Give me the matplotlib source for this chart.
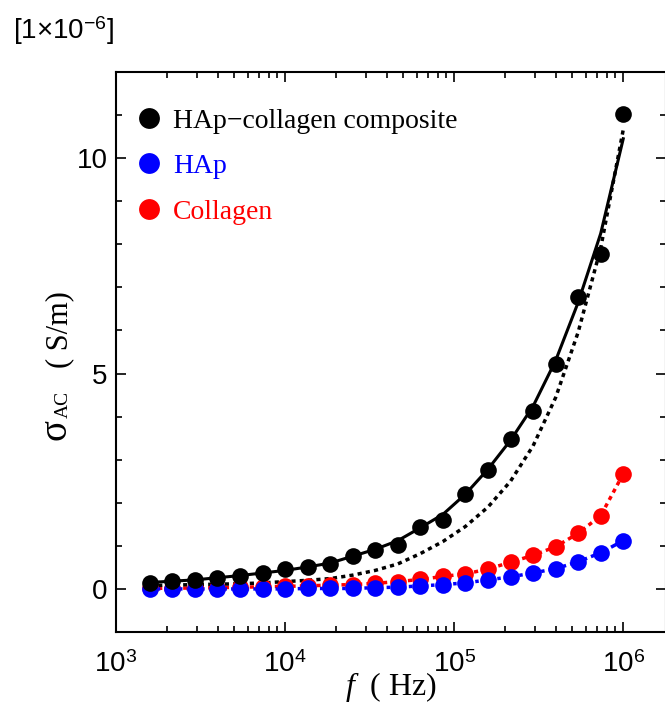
import matplotlib
matplotlib.use("Agg")
import matplotlib.pyplot as plt
from matplotlib.ticker import FixedLocator, FixedFormatter, MultipleLocator, LogLocator, NullFormatter

plt.rcParams['mathtext.fontset'] = 'custom'
plt.rcParams['mathtext.rm'] = 'Liberation Sans'
plt.rcParams['mathtext.it'] = 'Liberation Serif:italic'
plt.rcParams['font.family'] = ['Liberation Sans', 'DejaVu Sans']

# frequencies (Hz)
freq = [1585, 2154, 2929, 3981, 5412, 7356, 10000, 13594, 18478, 25119, 34146,
        46416, 63096, 85770, 116591, 158489, 215443, 292864, 398107, 541170,
        735642, 1000000]

# measured sigma_AC (x1e-6 S/m)
composite = [0.14, 0.19, 0.21, 0.26, 0.30, 0.38, 0.46, 0.50, 0.58, 0.77, 0.90,
             1.02, 1.43, 1.59, 2.20, 2.77, 3.47, 4.12, 5.23, 6.77, 7.77, 11.02]
hap = [0.00, 0.00, 0.00, 0.00, 0.00, 0.00, 0.00, 0.01, 0.01, 0.01, 0.03,
       0.04, 0.07, 0.10, 0.14, 0.21, 0.28, 0.37, 0.47, 0.63, 0.84, 1.12]
collagen = [0.01, 0.02, 0.02, 0.03, 0.04, 0.05, 0.06, 0.07, 0.09, 0.10, 0.13,
            0.17, 0.22, 0.29, 0.35, 0.46, 0.62, 0.78, 0.98, 1.29, 1.70, 2.67]

# fitted curves
composite_fit = [0.15, 0.18, 0.21, 0.26, 0.31, 0.37, 0.43, 0.51, 0.60, 0.76, 0.92,
                 1.12, 1.42, 1.73, 2.20, 2.78, 3.45, 4.24, 5.30, 6.65, 8.25, 10.45]
composite_model = [0.08, 0.09, 0.10, 0.11, 0.12, 0.14, 0.17, 0.20, 0.24, 0.32, 0.43,
                   0.58, 0.82, 1.10, 1.45, 1.90, 2.50, 3.32, 4.44, 5.96, 7.91, 10.66]
hap_fit = hap
collagen_fit = collagen

labels = ['HAp\u2212collagen composite', 'HAp', 'Collagen']
colors = ['black', 'blue', 'red']

fig = plt.figure(figsize=(6.65, 7.04), dpi=100)
ax = fig.add_axes([116/665, 1-632/704, 549.5/665, 560/704])

ax.plot(freq, collagen_fit, color='red', ls=(0, (1.2, 1.2)), lw=2.5, zorder=2)
ax.plot(freq, hap_fit, color='blue', ls=(0, (3, 1.2, 1, 1.2)), lw=2.5, zorder=2)
ax.plot(freq, composite_model, color='black', ls=(0, (1.2, 1.2)), lw=2.5, zorder=3)
ax.plot(freq, composite_fit, color='black', ls='-', lw=2.2, zorder=3)

mk = 12
h2, = ax.plot(freq, collagen, 'o', color='red', ms=mk, mec='none', zorder=4)
h1, = ax.plot(freq, hap, 'o', color='blue', ms=mk, mec='none', zorder=5)
h0, = ax.plot(freq, composite, 'o', color='black', ms=mk, mec='none', zorder=6)

ax.set_xscale('log')
ax.set_xlim(1e3, 10**6.25)
ax.set_ylim(-1, 12)

ax.xaxis.set_major_locator(FixedLocator([1e3, 1e4, 1e5, 1e6]))
ax.xaxis.set_major_formatter(FixedFormatter(['$10^{3}$', '$10^{4}$', '$10^{5}$', '$10^{6}$']))
ax.xaxis.set_minor_locator(LogLocator(base=10, subs=range(2, 10), numticks=20))
ax.xaxis.set_minor_formatter(NullFormatter())
ax.yaxis.set_major_locator(FixedLocator([0, 5, 10]))
ax.yaxis.set_minor_locator(MultipleLocator(1))

ax.tick_params(which='both', direction='in', top=True, right=True, width=1.2)
ax.tick_params(which='major', length=7, labelsize=20)
ax.tick_params(axis='x', which='major', pad=14)
ax.tick_params(axis='y', which='major', pad=6)
ax.tick_params(which='minor', length=4)
for s in ax.spines.values():
    s.set_linewidth(1.5)

leg = ax.legend([h0, h1, h2], labels, loc='upper left', frameon=False,
                prop={'family': 'Liberation Serif', 'size': 20},
                labelcolor=colors, handletextpad=0.22, handlelength=1.3,
                labelspacing=0.72, markerscale=1.25,
                borderaxespad=0.0, bbox_to_anchor=(0.007, 0.955))

ax.set_xlabel('$f$  ( Hz)', family='Liberation Serif', size=23, labelpad=-6)

fig.text(56/665, 1-430/704, '\u03c3', family='Liberation Serif', size=28,
         rotation=90, ha='center', va='center')
fig.text(63/665, 1-404/704, 'AC', family='Liberation Serif', size=14,
         rotation=90, ha='center', va='center')
fig.text(60/665, 1-330/704, '( S/m)', family='Liberation Serif', size=22,
         rotation=90, ha='center', va='center')

fig.text(13/665, 1-31/704, '[1\u00d710$^{\u22126}$]', size=20, ha='left', va='center')

fig.savefig('out.png', dpi=100)
